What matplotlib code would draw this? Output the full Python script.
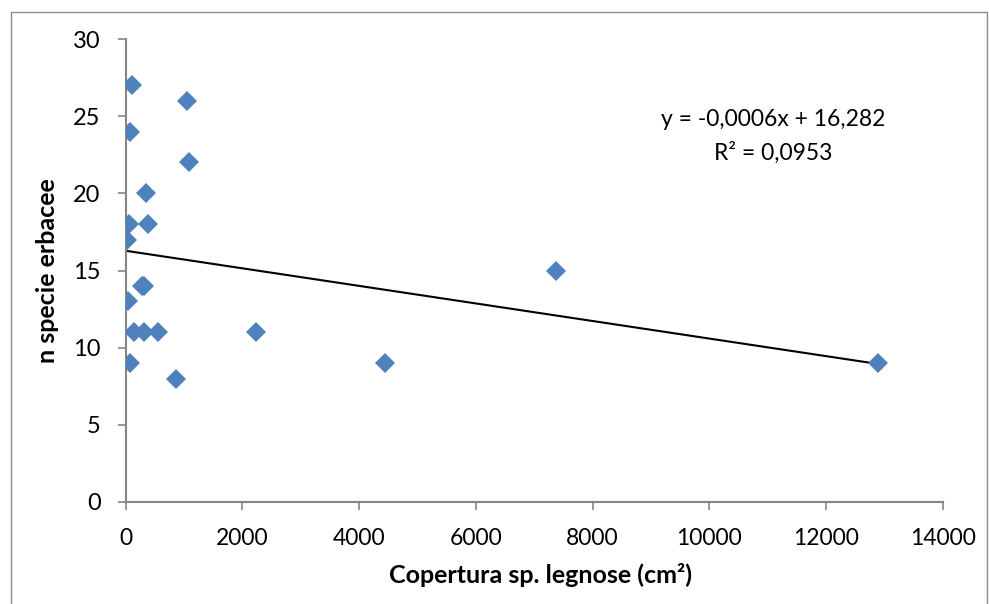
import matplotlib.pyplot as plt
import matplotlib.patches as patches
import numpy as np

# copertura specie legnose (cm2) vs numero specie erbacee
copertura = [106, 1058, 77, 1093, 346, 60, 380, 31, 7372, 290, 325,
             37, 151, 322, 562, 2235, 77, 865, 4443, 12885]
n_specie = [27, 26, 24, 22, 20, 18, 18, 17, 15, 14, 14,
            13, 11, 11, 11, 11, 9, 8, 9, 9]

x_ticks = [0, 2000, 4000, 6000, 8000, 10000, 12000, 14000]
y_ticks = [0, 5, 10, 15, 20, 25, 30]

plt.rcParams['font.family'] = ['Lato', 'DejaVu Sans']

fig = plt.figure(figsize=(9.89, 6.04), dpi=100)
fig.patches.append(patches.Rectangle((11 / 989, -0.01), 976 / 989, 1 - 12 / 604 + 0.01,
                                     transform=fig.transFigure, fill=False,
                                     edgecolor='#8c8c8c', linewidth=1))
ax = fig.add_axes([0.1269, 0.1689, 0.9535 - 0.1269, 0.9354 - 0.1689])

x = np.array(copertura, dtype=float)
y = np.array(n_specie, dtype=float)
ax.plot(x, y, linestyle='none', marker='D', markersize=10,
        color='#4F81BD', markeredgewidth=0, zorder=3)

# linear trend line
slope, intercept = np.polyfit(x, y, 1)
xs = np.array([0, x.max()])
ax.plot(xs, intercept + slope * xs, color='black', linewidth=1.5, zorder=2)

ax.text(11089, 24.76, 'y = -0,0006x + 16,282', ha='center', va='center', fontsize=16.5)
ax.text(11089, 22.62, 'R² = 0,0953', ha='center', va='center', fontsize=16.5)

ax.set_xlim(0, 14000)
ax.set_ylim(0, 30)
ax.set_xticks(x_ticks)
ax.set_yticks(y_ticks)
ax.tick_params(axis='both', direction='out', length=6, width=1.2,
               color='#868686', labelsize=17)
ax.tick_params(axis='x', pad=13, labelsize=16.5)
ax.tick_params(axis='y', pad=12)
for s in ['top', 'right']:
    ax.spines[s].set_visible(False)
for s in ['left', 'bottom']:
    ax.spines[s].set_color('#868686')
    ax.spines[s].set_linewidth(1.5)

ax.set_xlabel('Copertura sp. legnose (cm²)', fontsize=18, fontweight='bold', va='center')
ax.set_ylabel('n specie erbacee', fontsize=18, fontweight='bold', va='center')
ax.xaxis.set_label_coords(0.508, -0.158)
ax.yaxis.set_label_coords(-0.096, 0.5)

fig.savefig('out.png', dpi=100)
